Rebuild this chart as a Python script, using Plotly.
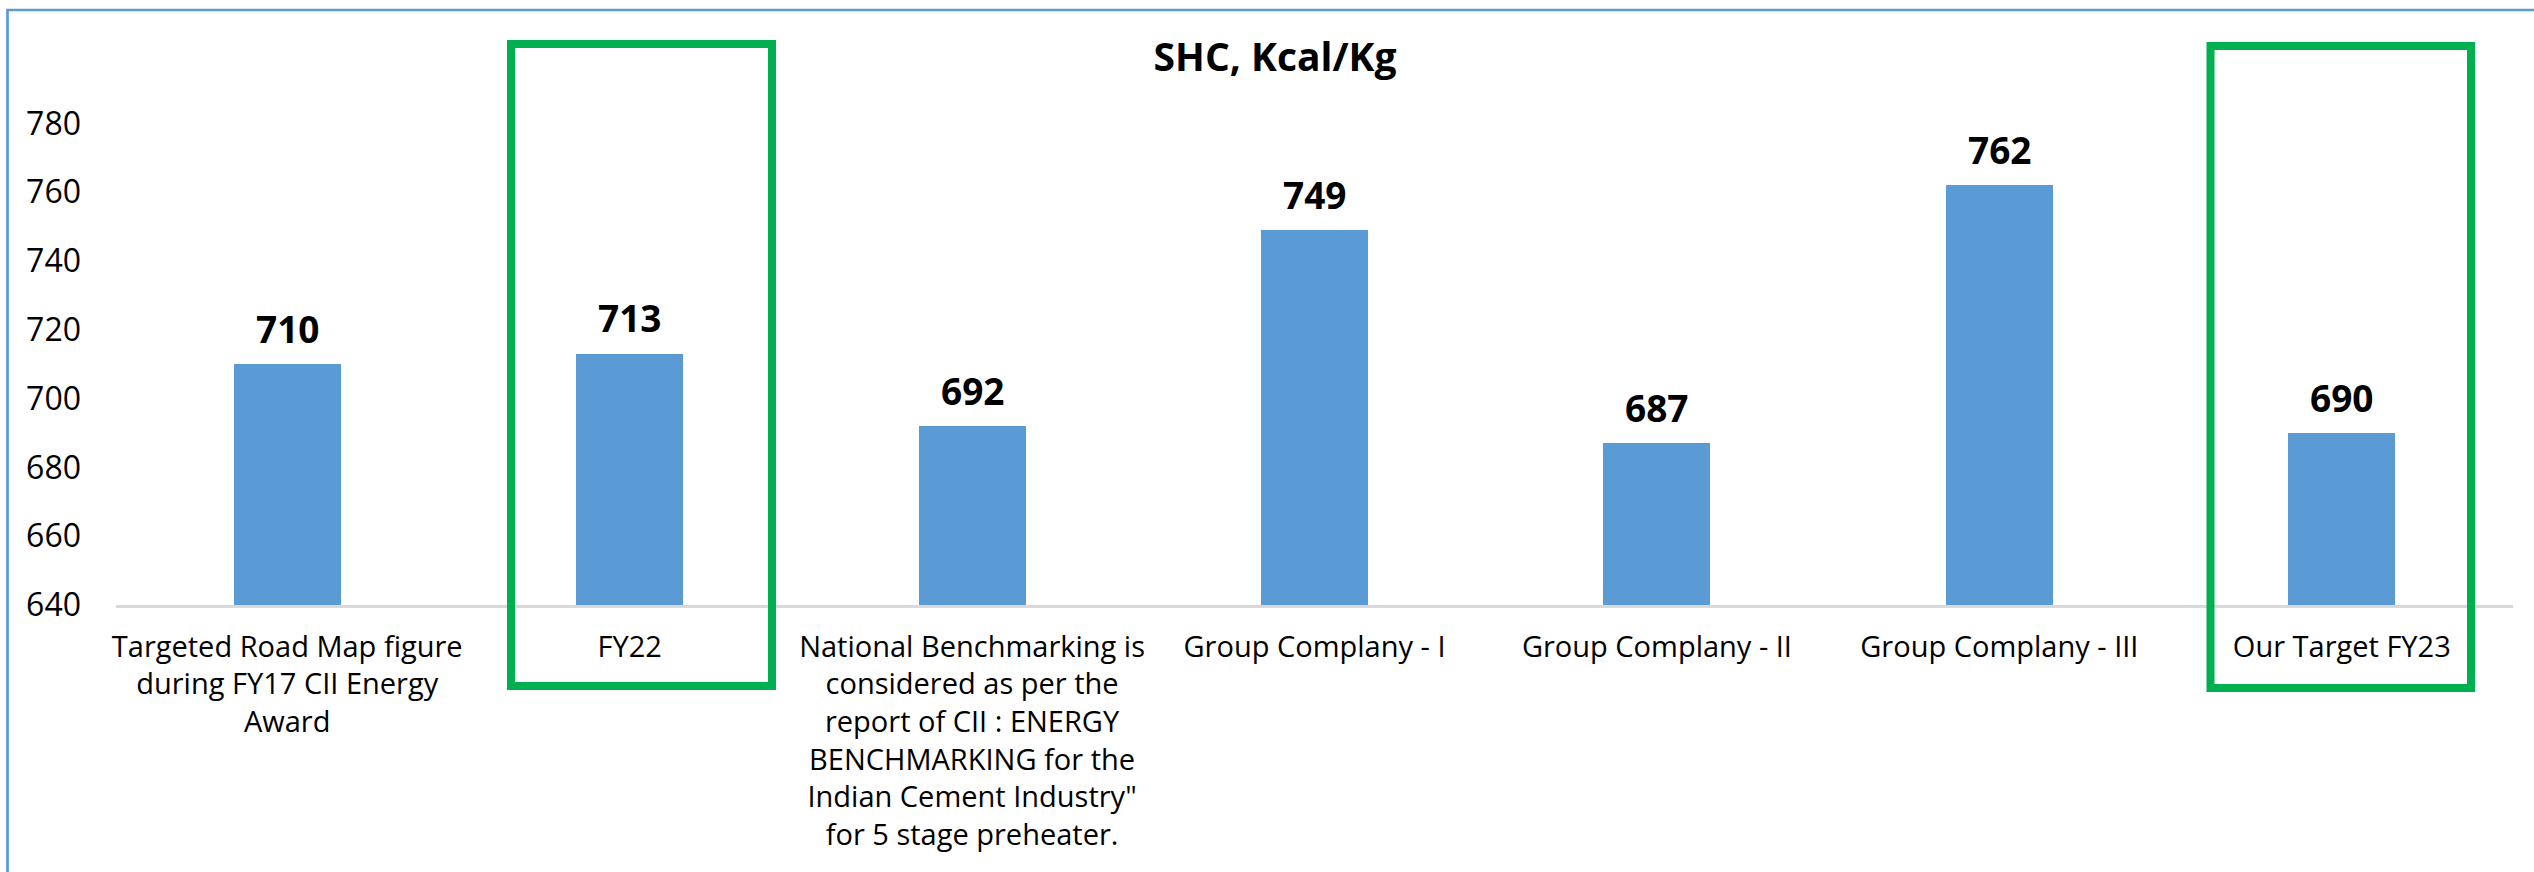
import plotly.graph_objects as go

# ---- data ----
categories = [
    "Targeted Road Map figure<br>during FY17 CII Energy<br>Award",
    "FY22",
    "National Benchmarking is<br>considered as per the<br>report of CII : ENERGY<br>BENCHMARKING for the<br>Indian Cement Industry\"<br>for 5 stage preheater.",
    "Group Complany - I",
    "Group Complany - II",
    "Group Complany - III",
    "Our Target FY23",
]
values = [710, 713, 692, 749, 687, 762, 690]
y_ticks = [640, 660, 680, 700, 720, 740, 760, 780]
title_text = "SHC, Kcal/Kg"

# ---- layout constants (pixels) ----
W, H = 2534, 872
L, R = 116, 2513          # plot area x extent
TOP, BOT = 89, 605        # plot area y extent
PW, PH = R - L, BOT - TOP

def px_x(px):
    return (px - L) / PW

def px_y(py):
    return (BOT - py) / PH

BAR_COLOR = "#5B9BD5"
GREEN = "#00B050"
FONT = "Open Sans"

xs = list(range(len(categories)))

fig = go.Figure()
fig.add_trace(go.Bar(
    x=xs, y=values,
    marker=dict(color=BAR_COLOR, line=dict(width=0)),
    width=0.3125,
    hoverinfo="skip",
))

# value labels above bars
annotations = []
for xi, v in zip(xs, values):
    annotations.append(dict(
        x=xi, y=v, xref="x", yref="y", text=f"<b>{v}</b>",
        showarrow=False, yanchor="middle", yshift=36,
        font=dict(family=FONT, size=37, color="black"),
    ))

# highlight boxes and chart border
shapes = [
    dict(type="rect", xref="paper", yref="paper",
         x0=px_x(511), x1=px_x(772), y0=px_y(686), y1=px_y(44),
         line=dict(color=GREEN, width=8), fillcolor="rgba(0,0,0,0)", layer="above"),
    dict(type="rect", xref="paper", yref="paper",
         x0=px_x(2210.5), x1=px_x(2471), y0=px_y(688), y1=px_y(46),
         line=dict(color=GREEN, width=8), fillcolor="rgba(0,0,0,0)", layer="above"),
    dict(type="line", xref="paper", yref="paper",
         x0=px_x(7.5), x1=px_x(7.5), y0=px_y(880), y1=px_y(10),
         line=dict(color=BAR_COLOR, width=2.7)),
    dict(type="line", xref="paper", yref="paper",
         x0=px_x(6.2), x1=px_x(2540), y0=px_y(10), y1=px_y(10),
         line=dict(color=BAR_COLOR, width=2.7)),
]

fig.update_layout(
    width=W, height=H,
    margin=dict(l=L, r=W - R, t=TOP, b=H - BOT, pad=0),
    paper_bgcolor="white", plot_bgcolor="white",
    showlegend=False,
    title=dict(text=f"<b>{title_text}</b>", x=1275 / W, xanchor="center",
               y=1 - 57 / H, yanchor="middle", yref="container",
               font=dict(family=FONT, size=39, color="black")),
    annotations=annotations,
    shapes=shapes,
    bargap=0,
    xaxis=dict(
        tickmode="array", tickvals=xs, ticktext=categories,
        range=[-0.5, len(categories) - 0.5],
        showgrid=False, zeroline=False,
        showline=True, linecolor="#D9D9D9", linewidth=2.5,
        ticks="", tickangle=0,
        tickfont=dict(family=FONT, size=29, color="black"),
        ticklabelstandoff=14,
        fixedrange=True,
    ),
    yaxis=dict(
        range=[640, 790],
        tickmode="array", tickvals=y_ticks,
        showgrid=False, zeroline=False, showline=False,
        ticks="",
        tickfont=dict(family=FONT, size=32, color="black"),
        ticklabelstandoff=34,
        fixedrange=True,
    ),
)

fig.write_html(
    "out.html",
    config={"displayModeBar": False},
    post_script="document.body.style.margin='0';document.body.style.overflow='hidden';",
)
